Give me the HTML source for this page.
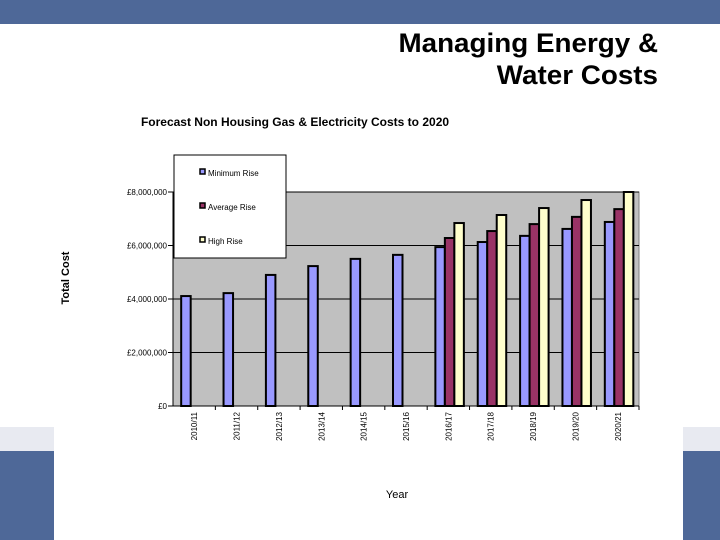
<!DOCTYPE html>
<html><head><meta charset="utf-8"><style>
body{margin:0;width:720px;height:540px;overflow:hidden;background:#fff;font-family:"Liberation Sans",Arial,sans-serif;position:relative}
.abs{position:absolute}
</style></head><body>
<div class="abs" style="left:0;top:0;width:720px;height:24px;background:#4e6898"></div>
<div class="abs" style="left:0;top:427px;width:720px;height:24px;background:#e8eaf1"></div>
<div class="abs" style="left:0;top:451px;width:720px;height:89px;background:#4e6898"></div>
<div class="abs" style="left:54px;top:400px;width:629px;height:140px;background:#fff"></div>
<div class="abs" style="right:62px;top:27px;text-align:right;font-size:27px;font-weight:bold;line-height:32px;color:#000;transform:scaleX(1.03);transform-origin:right">Managing Energy &amp;<br>Water Costs</div>
<svg class="abs" style="left:0;top:0" width="720" height="540" id="chart"></svg>
<script>
const categories=["2010/11","2011/12","2012/13","2013/14","2014/15","2015/16","2016/17","2017/18","2018/19","2019/20","2020/21"];
const minRise=[4.11,4.22,4.9,5.23,5.5,5.65,5.94,6.13,6.36,6.62,6.88];
const avgRise=[null,null,null,null,null,null,6.28,6.54,6.8,7.07,7.36];
const highRise=[null,null,null,null,null,null,6.84,7.14,7.4,7.7,8.0];
const yTicks=[0,2,4,6,8];
const yTickLabels=["£0","£2,000,000","£4,000,000","£6,000,000","£8,000,000"];
const svg=document.getElementById('chart');const NS='http://www.w3.org/2000/svg';
const X0=173,X1=639,Y0=406,Y1=192,MAX=8;
const bw=(X1-X0)/categories.length;
function y(v){return Y0-(Math.min(v,MAX)/MAX)*(Y0-Y1);}
function xc(i){return X0+bw*(i+0.5);}
function mk(t,a,p){const e=document.createElementNS(NS,t);for(const k in a)e.setAttribute(k,a[k]);(p||svg).appendChild(e);return e;}
let e;
e=mk('rect',{x:X0,y:Y1,width:X1-X0,height:Y0-Y1,fill:'#c0c0c0',stroke:'#808080'});


yTicks.forEach((t,i)=>{
 e=mk('line',{x1:X0-5,x2:X1,y1:y(t),y2:y(t),stroke:'#000','stroke-width':1});
 
 
 e=mk('text',{x:X0-6,y:y(t)+3,'text-anchor':'end','font-size':8,fill:'#000'});e.textContent=yTickLabels[i];
 
 
});
mk('line',{x1:X0,x2:X0,y1:Y1,y2:Y0,stroke:'#000'});
categories.forEach((c,i)=>{
 e=mk('line',{x1:X0+bw*(i+1),x2:X0+bw*(i+1),y1:Y0,y2:Y0+4,stroke:'#000'});
 
 
 const cx=xc(i);
 e=mk('text',{x:0,y:0,'font-size':8,'text-anchor':'end',transform:`translate(${cx+3},${Y0+6}) rotate(-90)`});e.textContent=c;
 
 
 [[minRise,'#9999ff',0],[avgRise,'#993366',1],[highRise,'#ffffcc',2]].forEach(([arr,col,k])=>{
  const v=arr[i];if(v==null)return;
  e=mk('rect',{x:cx-13+k*9.5,y:y(v),width:9.5,height:Y0-y(v),fill:col,stroke:'#000','stroke-width':2});
  
  
 });
});
mk('line',{x1:X0,x2:X1,y1:Y0,y2:Y0,stroke:'#000'});
e=mk('text',{x:295,y:126,'font-size':12,'font-weight':'bold','text-anchor':'middle'});e.textContent='Forecast Non Housing Gas & Electricity Costs to 2020';


e=mk('text',{x:0,y:0,'font-size':11,'font-weight':'bold','text-anchor':'middle',transform:'translate(69,278) rotate(-90)'});e.textContent='Total Cost';


e=mk('text',{x:397,y:498,'font-size':11,'text-anchor':'middle'});e.textContent='Year';


const g=mk('g',{});


mk('rect',{x:174,y:155,width:112,height:103,fill:'#fff',stroke:'#000'},g);
[['Minimum Rise','#9999ff',173],['Average Rise','#993366',207],['High Rise','#ffffcc',241]].forEach(([n,c,yy])=>{
 const r=mk('rect',{x:200,y:yy-4,width:5,height:5,fill:c,stroke:'#000','stroke-width':1.5},g);
 
 
 const t=mk('text',{x:208,y:yy+3,'font-size':8},g);t.textContent=n;
 
 
});
</script>
</body></html>
